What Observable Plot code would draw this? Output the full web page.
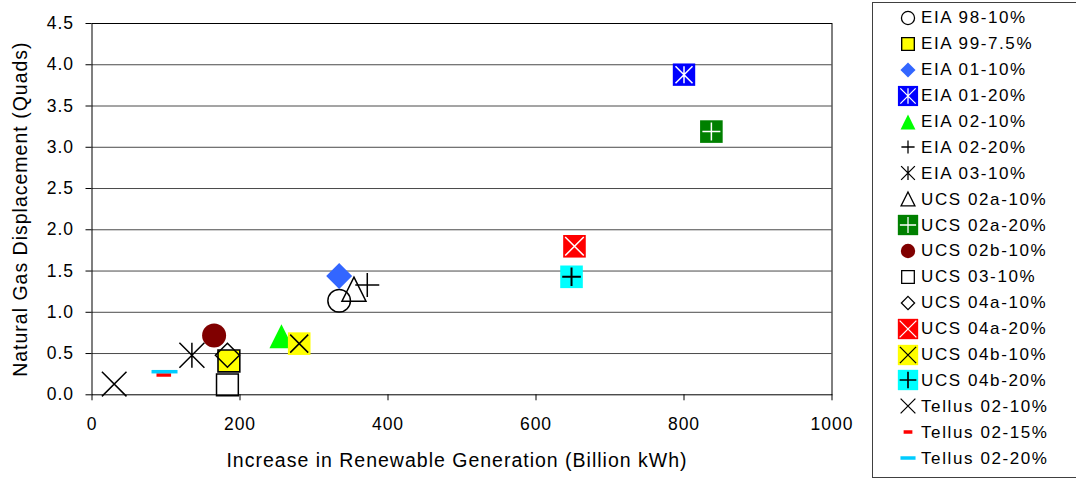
<!DOCTYPE html>
<html><head><meta charset="utf-8">
<script src="https://cdn.jsdelivr.net/npm/d3@7"></script>
<script src="https://cdn.jsdelivr.net/npm/@observablehq/plot@0.6"></script>
<style>
body{margin:0;background:#fff;}
#wrap{position:relative;width:1076px;height:480px;overflow:hidden;font-family:"Liberation Sans",Arial,sans-serif;background:#fff;}
#chart{position:absolute;left:0;top:0;}
#chart svg text{letter-spacing:1px;}
#chart g[aria-label="titles"] text{letter-spacing:0.4px;}
#legend{position:absolute;left:872px;top:2px;width:240px;height:472px;border:1px solid #404040;padding-top:2px;}
.row{display:flex;align-items:center;height:25.9px;}
.row svg{margin-left:22px;flex:none;display:block;}
.row span{font-size:17px;letter-spacing:1.6px;white-space:nowrap;color:#000;line-height:1;}
</style></head><body>
<div id="wrap"><div id="chart"></div><div id="legend"></div></div>
<script>
// ---- data ----
const names = ["EIA 98-10%","EIA 99-7.5%","EIA 01-10%","EIA 01-20%","EIA 02-10%","EIA 02-20%","EIA 03-10%",
  "UCS 02a-10%","UCS 02a-20%","UCS 02b-10%","UCS 03-10%","UCS 04a-10%","UCS 04a-20%","UCS 04b-10%","UCS 04b-20%",
  "Tellus 02-10%","Tellus 02-15%","Tellus 02-20%"];
const xs = [334, 185, 334, 800, 256, 372, 135, 354, 837, 165, 183, 183, 652, 280, 648, 30, 97, 98];
const ys = [1.14, 0.41, 1.44, 3.88, 0.71, 1.33, 0.48, 1.28, 3.19, 0.72, 0.12, 0.48, 1.80, 0.62, 1.43, 0.13, 0.24, 0.28];
const xTicks = [0, 200, 400, 600, 800, 1000];
const yTicks = [0, 0.5, 1, 1.5, 2, 2.5, 3, 3.5, 4, 4.5];
const xTitle = "Increase in Renewable Generation (Billion kWh)";
const yTitle = "Natural Gas Displacement (Quads)";

// ---- marker shapes ----
const S = size => Math.sqrt(size / Math.PI);
const sym = {
  circle: {draw(c, size){const r=S(size); c.moveTo(r,0); c.arc(0,0,r,0,2*Math.PI); c.closePath();}},
  square: {draw(c, size){const r=S(size); c.rect(-r,-r,2*r,2*r);}},
  diamond: {draw(c, size){const r=S(size); c.moveTo(0,-r); c.lineTo(r,0); c.lineTo(0,r); c.lineTo(-r,0); c.closePath();}},
  triangle: {draw(c, size){const r=S(size); c.moveTo(0,-r); c.lineTo(r,r); c.lineTo(-r,r); c.closePath();}},
  plus: {draw(c, size){const r=S(size); c.moveTo(-r,0); c.lineTo(r,0); c.moveTo(0,-r); c.lineTo(0,r);}},
  times: {draw(c, size){const r=S(size); c.moveTo(-r,-r); c.lineTo(r,r); c.moveTo(-r,r); c.lineTo(r,-r);}},
  star: {draw(c, size){const r=S(size); c.moveTo(-r,-r); c.lineTo(r,r); c.moveTo(-r,r); c.lineTo(r,-r); c.moveTo(0,-r); c.lineTo(0,r);}}
};
const dash = h => ({draw(c, size){const r=S(size); c.rect(-r,-h/2,2*r,h);}});

const styles = {
  "EIA 98-10%": {lf:0.58, layers:[{symbol:sym.circle, r:11.3, fill:"none", stroke:"#000", sw:1.5}]},
  "EIA 99-7.5%": {lf:0.58, layers:[{symbol:sym.square, r:10.9, fill:"#ffff00", stroke:"#000", sw:1.6}]},
  "EIA 01-10%": {lf:0.58, layers:[{symbol:sym.diamond, r:13, fill:"#3366ff", stroke:"none", sw:0}]},
  "EIA 01-20%": {lf:0.9, layers:[{symbol:sym.square, r:11.2, fill:"#0000ff", stroke:"none", sw:0},
                                  {symbol:sym.star, r:8.5, fill:"none", stroke:"#fff", sw:1.5}]},
  "EIA 02-10%": {lf:0.62, layers:[{symbol:sym.triangle, r:12, fill:"#00ff00", stroke:"none", sw:0}]},
  "EIA 02-20%": {lf:0.55, layers:[{symbol:sym.plus, r:12, fill:"none", stroke:"#000", sw:1.5}]},
  "EIA 03-10%": {lf:0.55, layers:[{symbol:sym.star, r:12.5, fill:"none", stroke:"#000", sw:1.5}]},
  "UCS 02a-10%": {lf:0.58, layers:[{symbol:sym.triangle, r:12, fill:"none", stroke:"#000", sw:1.5}]},
  "UCS 02a-20%": {lf:0.9, layers:[{symbol:sym.square, r:11.3, fill:"#008000", stroke:"none", sw:0},
                                   {symbol:sym.plus, r:9, fill:"none", stroke:"#fff", sw:1.5}]},
  "UCS 02b-10%": {lf:0.6, layers:[{symbol:sym.circle, r:12, fill:"#800000", stroke:"none", sw:0}]},
  "UCS 03-10%": {lf:0.58, layers:[{symbol:sym.square, r:10.9, fill:"none", stroke:"#000", sw:1.5}]},
  "UCS 04a-10%": {lf:0.55, layers:[{symbol:sym.diamond, r:12, fill:"none", stroke:"#000", sw:1.5}]},
  "UCS 04a-20%": {lf:0.9, layers:[{symbol:sym.square, r:11.3, fill:"#ff0000", stroke:"none", sw:0},
                                   {symbol:sym.times, r:9.3, fill:"none", stroke:"#fff", sw:1.5}]},
  "UCS 04b-10%": {lf:0.9, layers:[{symbol:sym.square, r:11.3, fill:"#ffff00", stroke:"none", sw:0},
                                   {symbol:sym.times, r:9, fill:"none", stroke:"#000", sw:1.5}]},
  "UCS 04b-20%": {lf:0.9, layers:[{symbol:sym.square, r:11.3, fill:"#00ffff", stroke:"none", sw:0},
                                   {symbol:sym.plus, r:9.3, fill:"none", stroke:"#000", sw:2}]},
  "Tellus 02-10%": {lf:0.6, layers:[{symbol:sym.times, r:12.3, fill:"none", stroke:"#000", sw:1.5}]},
  "Tellus 02-15%": {lf:0.6, layers:[{symbol:dash(3.5), r:7.3, fill:"#ff0000", stroke:"none", sw:0}]},
  "Tellus 02-20%": {lf:0.58, layers:[{symbol:dash(3.5), r:13, fill:"#00ccff", stroke:"none", sw:0}]}
};

const rows = names.map((name, i) => ({name, x: xs[i], y: ys[i]}));

const dotMarks = [];
rows.forEach(row => {
  styles[row.name].layers.forEach(L => {
    dotMarks.push(Plot.dot([row], {x:"x", y:"y", symbol:L.symbol, r:L.r, fill:L.fill,
      stroke:L.stroke, strokeWidth:L.sw}));
  });
});

const chart = Plot.plot({
  width: 860, height: 480,
  marginLeft: 91.5, marginRight: 28.5, marginTop: 23, marginBottom: 85.7,
  style: {fontFamily: '"Liberation Sans", Arial, sans-serif', fontSize: "17.5px", color: "#000", background: "#fff", overflow: "visible"},
  x: {domain: [0, 1000], ticks: xTicks, tickSize: 6, tickPadding: 17, tickFormat: d3.format("d"), label: null},
  y: {domain: [0, 4.5], ticks: yTicks, tickSize: 6, tickPadding: 12, tickFormat: d3.format(".1f"), label: null},
  marks: [
    Plot.ruleY(yTicks.slice(1), {stroke: "#4a4a4a", strokeWidth: 1}),
    Plot.frame({stroke: "#000", strokeWidth: 1}),
    ...dotMarks,
    Plot.text([xTitle], {text: d => d, frameAnchor: "bottom", textAnchor: "middle", lineAnchor: "middle", dy: 66, dx: -5, fontSize: 19.5, fill: "#000", ariaLabel: "titles"}),
    Plot.text([yTitle], {text: d => d, frameAnchor: "left", textAnchor: "middle", lineAnchor: "middle", rotate: -90, dx: -71, fontSize: 19.5, fill: "#000", ariaLabel: "titles"})
  ]
});
document.getElementById("chart").appendChild(chart);

// ---- legend ----
const legend = d3.select("#legend");
names.forEach(name => {
  const st = styles[name];
  const row = legend.append("div").attr("class", "row");
  const svg = row.append("svg").attr("width", 26).attr("height", 26);
  const g = svg.append("g").attr("transform", "translate(13,13)");
  st.layers.forEach(L => {
    const rr = L.r * st.lf;
    g.append("path")
      .attr("d", d3.symbol(L.symbol, Math.PI * rr * rr)())
      .attr("fill", L.fill).attr("stroke", L.stroke)
      .attr("stroke-width", L.sw ? Math.max(1.1, L.sw * 0.85) : 0);
  });
  row.append("span").text(name);
});
</script>
</body></html>
